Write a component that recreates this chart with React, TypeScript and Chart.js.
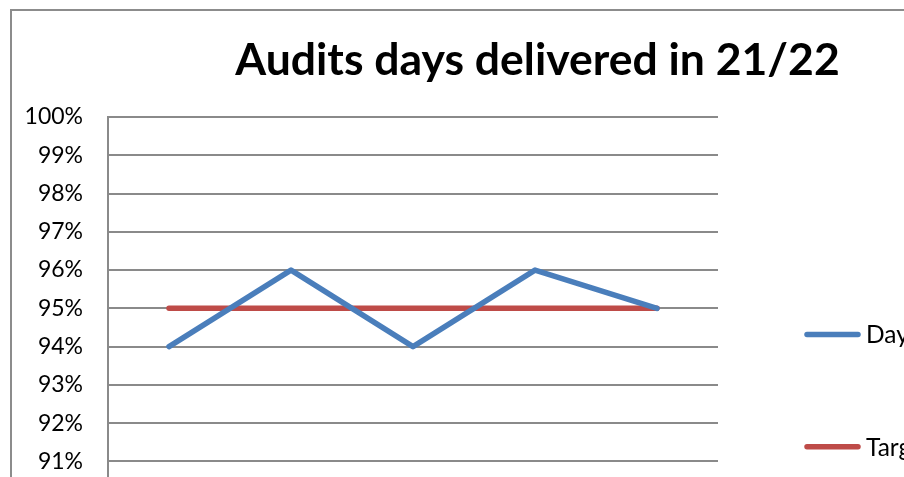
import React, { useEffect, useRef } from "react";
import { Chart, registerables } from "chart.js";

Chart.register(...registerables);

const chartTitle = "Audits days delivered in 21/22";
const categories = ["Q1", "Q2", "Q3", "Q4", "Year"];
const daysDelivered = [94, 96, 94, 96, 95];
const target = [95, 95, 95, 95, 95];
const seriesNames = ["Days delivered", "Target"];
const yMin = 85;
const yMax = 100;

const BLUE = "#4A7EBB";
const RED = "#BE4B48";
const GRID = "#8a8a8a";
const FONT = "Lato, 'Open Sans', sans-serif";

const overlayPlugin = {
  id: "excelOverlay",
  afterDraw(chart: any) {
    const ctx = chart.ctx as CanvasRenderingContext2D;
    ctx.save();
    // Title
    ctx.fillStyle = "#000";
    ctx.font = `bold 44.5px ${FONT}`;
    ctx.textAlign = "center";
    ctx.textBaseline = "alphabetic";
    ctx.fillText(chartTitle, 525.5, 64);
    // Legend
    const ys = [323.5, 435.8];
    chart.data.datasets.forEach((ds: any, i: number) => {
      const y = ys[i];
      ctx.strokeStyle = ds.borderColor;
      ctx.lineWidth = 5.5;
      ctx.lineCap = "round";
      ctx.beginPath();
      ctx.moveTo(795, y);
      ctx.lineTo(846, y);
      ctx.stroke();
      ctx.fillStyle = "#000";
      ctx.font = `24.5px ${FONT}`;
      ctx.textAlign = "left";
      ctx.textBaseline = "middle";
      ctx.fillText(ds.label, 854, y + 1);
    });
    ctx.restore();
  },
};

export default function App() {
  const ref = useRef<HTMLCanvasElement | null>(null);
  useEffect(() => {
    if (!ref.current) return;
    const chart = new Chart(ref.current, {
      type: "line",
      data: {
        labels: categories,
        datasets: [
          {
            label: seriesNames[0],
            data: daysDelivered,
            borderColor: BLUE,
            backgroundColor: BLUE,
            borderWidth: 5.5,
            borderCapStyle: "round",
            borderJoinStyle: "round",
            pointRadius: 0,
            tension: 0,
          },
          {
            label: seriesNames[1],
            data: target,
            borderColor: RED,
            backgroundColor: RED,
            borderWidth: 5.5,
            borderCapStyle: "round",
            borderJoinStyle: "round",
            pointRadius: 0,
            tension: 0,
          },
        ],
      },
      options: {
        responsive: false,
        animation: false,
        layout: { padding: { left: 0, top: 106, right: 345, bottom: 0 } },
        plugins: {
          legend: { display: false },
          title: { display: false },
          tooltip: { enabled: false },
        },
        scales: {
          x: {
            offset: true,
            grid: { display: false, drawTicks: false },
            border: { display: false },
            ticks: { color: "#000", font: { family: FONT, size: 23 }, padding: 10 },
            afterFit: (s: any) => {
              s.height = 80;
            },
          },
          y: {
            min: yMin,
            max: yMax,
            ticks: {
              stepSize: 1,
              color: "#000",
              padding: 25,
              font: { family: FONT, size: 23 },
              callback: (v: any) => `${v}%`,
            },
            grid: { color: GRID, lineWidth: 2, drawTicks: false },
            border: { color: GRID, width: 2 },
            afterFit: (s: any) => {
              s.width = 96;
            },
          },
        },
      },
      plugins: [overlayPlugin],
    });
    return () => chart.destroy();
  }, []);

  return (
    <div
      style={{
        position: "fixed",
        left: 0,
        top: 0,
        width: 904,
        height: 477,
        overflow: "hidden",
        background: "#fff",
      }}
    >
      <div
        style={{
          position: "absolute",
          left: 10,
          top: 9,
          width: 1051,
          height: 760,
          border: "2px solid #8c8c8c",
          background: "#fff",
        }}
      >
        <canvas ref={ref} width={1051} height={760} style={{ display: "block", width: 1051, height: 760 }} />
      </div>
    </div>
  );
}
